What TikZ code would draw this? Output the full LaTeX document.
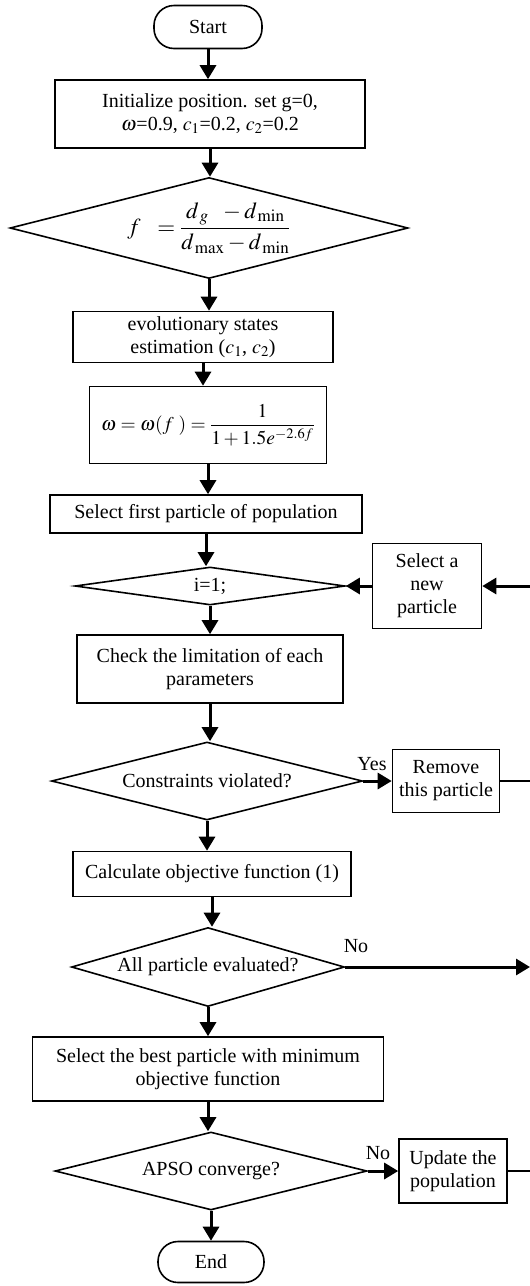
\documentclass[tikz,border=0pt]{standalone}
\usepackage{amsmath}
\usepackage{mathptmx}
\usepackage{fontspec}
\setmainfont{Liberation Serif}
\usetikzlibrary{shapes.geometric,arrows.meta}

\begin{document}
\begin{tikzpicture}[x=1pt, y=-1pt, font=\fontsize{20}{23}\selectfont,
	box/.style={draw, line width=1.6pt, align=center, inner sep=0pt},
	term/.style={box, rounded corners=20pt},
	dia/.style={draw, diamond, line width=1.6pt, align=center, inner sep=0pt},
	arr/.style={line width=3pt, -{Triangle[length=14pt,width=16pt]}},
	lnk/.style={line width=2pt}]
	\useasboundingbox (0,0) rectangle (530,1286);
	\node[term, minimum width=108pt, minimum height=43pt] (start) at (208,27) {Start};
	\node[box, minimum width=310pt, minimum height=68pt] (init) at (210,114) {Initialize position. set g=0,\\ $\omega$=0.9, $c_1$=0.2, $c_2$=0.2};
	\node[dia, aspect=3.9, minimum width=398pt, minimum height=101pt, font=\fontsize{23}{26}\selectfont] (fdia) at (209,228) {$f\ \ =\dfrac{d_{\,g}\ \ -d_{\,\min}}{d_{\,\max}-d_{\,\min}}$};
	\node[box, minimum width=260pt, minimum height=51pt] (evo) at (203,337) {evolutionary states\\ estimation ($c_1$, $c_2$)};
	\node[box, minimum width=237pt, minimum height=77pt, font=\fontsize{19.5}{22}\selectfont] (wbox) at (208,425) {$\omega=\omega(f\ )=\dfrac{1}{1+1.5e^{-2.6f}}$};
	\node[box, minimum width=312pt, minimum height=38pt] (first) at (206,514) {Select first particle of population};
	\node[dia, aspect=7, minimum width=270pt, minimum height=38pt] (idia) at (210,586) {i=1;};
	\node[box, minimum width=109pt, minimum height=85pt] (newp) at (427,586) {Select a\\ new\\ particle};
	\node[box, minimum width=266pt, minimum height=68pt] (check) at (210,669) {Check the limitation of each\\ parameters};
	\node[dia, aspect=4, minimum width=311pt, minimum height=78pt] (cdia) at (207,781) {Constraints violated?};
	\node[box, minimum width=107pt, minimum height=63pt] (remove) at (446,781) {Remove\\ this particle};
	\node[box, minimum width=278pt, minimum height=45pt] (calc) at (212,874) {Calculate objective function (1)};
	\node[dia, aspect=3.5, minimum width=273pt, minimum height=79pt] (adia) at (208,967) {All particle evaluated?};
	\node[box, minimum width=351pt, minimum height=64pt] (best) at (208,1069) {Select the best particle with minimum\\ objective function};
	\node[dia, aspect=4, minimum width=312pt, minimum height=78pt] (apso) at (211,1171) {APSO converge?};
	\node[box, minimum width=108pt, minimum height=64pt] (update) at (453,1171) {Update the\\ population};
	\node[term, minimum width=106pt, minimum height=41pt] (end) at (211,1262) {End};
	\node (yes) at (372,764) {Yes};
	\node (noa) at (356,946) {No};
	\node (nob) at (378,1153) {No};
	\coordinate (r1) at (530,586);
	\coordinate (r2) at (530,781);
	\coordinate (r3) at (530,967);
	\coordinate (r4) at (530,1171);
	\foreach \a/\b in {start/init, init/fdia, fdia/evo, evo/wbox, wbox/first, first/idia, idia/check, check/cdia, cdia/calc, calc/adia, adia/best, best/apso, apso/end}
		\draw[arr] (\a.south) -- (\a.south |- \b.north);
	\draw[arr] (r1) -- (newp.east);
	\draw[arr] (newp.west) -- (idia.east);
	\draw[arr] (cdia.east) -- (remove.west);
	\draw[lnk] (remove.east) -- (r2);
	\draw[arr] (adia.east) -- (r3);
	\draw[arr] (apso.east) -- (update.west);
	\draw[lnk] (update.east) -- (r4);
\end{tikzpicture}
\end{document}
